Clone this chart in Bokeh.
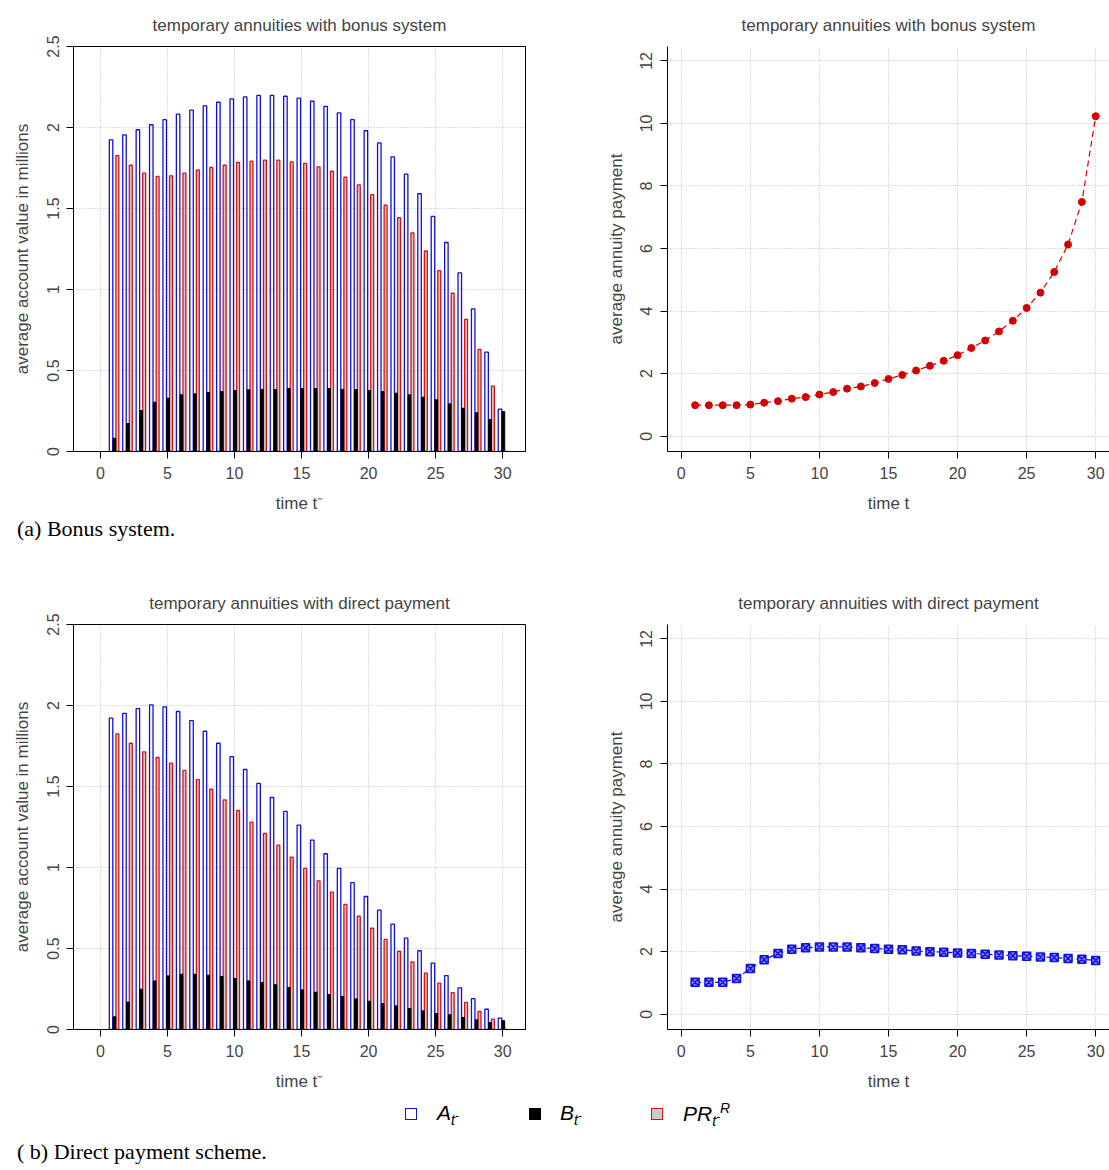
import numpy as np
from bokeh.plotting import figure
from bokeh.layouts import column, row
from bokeh.models import Div, FixedTicker, Range1d
from bokeh.embed import file_html
from bokeh.resources import INLINE

t = list(range(1, 31))
A_bonus = [1.924,1.955,1.986,2.017,2.048,2.082,2.107,2.134,2.156,2.177,2.189,2.198,2.198,2.193,2.181,
           2.162,2.131,2.090,2.048,1.980,1.905,1.819,1.712,1.591,1.451,1.290,1.103,0.881,0.613,0.261]
PR_bonus = [1.827,1.767,1.718,1.698,1.702,1.718,1.739,1.753,1.767,1.784,1.792,1.798,1.798,1.788,1.778,
            1.757,1.730,1.693,1.646,1.586,1.520,1.443,1.350,1.239,1.117,0.977,0.815,0.630,0.403,0.0]
B_bonus = [0.082,0.173,0.253,0.304,0.329,0.350,0.356,0.364,0.370,0.377,0.381,0.383,0.383,0.389,0.389,
           0.389,0.389,0.383,0.383,0.377,0.370,0.360,0.350,0.335,0.319,0.294,0.267,0.239,0.198,0.247]
A_direct = [1.922,1.952,1.981,2.004,1.992,1.963,1.907,1.841,1.767,1.685,1.605,1.519,1.432,1.346,1.261,
            1.169,1.085,0.994,0.907,0.821,0.737,0.650,0.564,0.486,0.410,0.333,0.257,0.191,0.125,0.070]
PR_direct = [1.825,1.767,1.714,1.679,1.644,1.599,1.543,1.483,1.418,1.352,1.280,1.210,1.138,1.064,0.994,
             0.918,0.848,0.772,0.699,0.625,0.556,0.483,0.418,0.348,0.286,0.228,0.167,0.111,0.064,0.0]
B_direct = [0.078,0.169,0.249,0.300,0.331,0.341,0.341,0.335,0.327,0.315,0.300,0.290,0.276,0.259,0.245,
            0.230,0.216,0.204,0.189,0.175,0.160,0.146,0.130,0.115,0.099,0.091,0.074,0.060,0.043,0.054]
pay_bonus = [0.99,0.99,0.99,0.99,1.01,1.07,1.12,1.20,1.25,1.33,1.41,1.52,1.59,1.70,1.83,
             1.96,2.10,2.25,2.41,2.59,2.82,3.06,3.35,3.69,4.10,4.59,5.25,6.13,7.49,10.23]
pay_direct = [1.02,1.02,1.02,1.14,1.46,1.74,1.94,2.08,2.12,2.15,2.15,2.15,2.12,2.10,2.08,
              2.06,2.02,2.00,1.98,1.96,1.94,1.92,1.89,1.87,1.85,1.83,1.81,1.78,1.76,1.72]
xticks = [0, 5, 10, 15, 20, 25, 30]
yticks_left = [0, 0.5, 1, 1.5, 2, 2.5]
yticks_right = [0, 2, 4, 6, 8, 10, 12]

FONT = "Liberation Sans"


def style(p, yticks, outline):
    p.title.text_font = FONT
    p.title.text_font_size = "17px"
    p.title.text_font_style = "normal"
    p.title.align = "center"
    p.title.standoff = 20
    p.title.vertical_align = "top"
    for ax in (p.xaxis[0], p.yaxis[0]):
        ax.major_label_text_font = FONT
        ax.major_label_text_font_size = "16px"
        ax.axis_label_text_font = FONT
        ax.axis_label_text_font_size = "17px"
        ax.axis_label_text_font_style = "normal"
        ax.minor_tick_line_color = None
        ax.major_tick_in = 0
        ax.major_tick_out = 7
        ax.major_label_standoff = 8
        ax.axis_label_standoff = 12
        ax.axis_line_color = "black"
        ax.major_tick_line_color = "black"
    p.xaxis.ticker = FixedTicker(ticks=xticks)
    p.yaxis.ticker = FixedTicker(ticks=yticks)
    p.yaxis.major_label_overrides = {v: ("%g" % v) for v in yticks}
    p.yaxis.major_label_orientation = "vertical"
    p.grid.grid_line_color = "#bbbbbb"
    p.grid.grid_line_dash = "1 2"
    p.outline_line_color = "black" if outline else None
    p.background_fill_color = "white"
    p.border_fill_color = "white"


def bar_fig(title, A, B, PR):
    p = figure(width=560, height=46 + 405 + 64, output_backend="svg", toolbar_location=None,
               x_range=Range1d(-2, 31.7), y_range=Range1d(0, 2.5), title=title,
               min_border_left=73, min_border_right=35, min_border_top=46, min_border_bottom=64)
    tt = np.array(t, dtype=float)
    p.vbar(x=tt - 0.2, top=A, width=0.26, bottom=0, fill_color=None, line_color="#1010dd", line_width=1.3)
    p.vbar(x=tt + 0.27, top=PR, width=0.22, bottom=0, fill_color="#cccccc", line_color="#dd1010", line_width=1.3)
    p.vbar(x=tt + 0.05, top=B, width=0.2, bottom=0, fill_color="black", line_color="black", line_width=1)
    p.xaxis.axis_label = "time t\u207b"
    p.yaxis.axis_label = "average account value in millions"
    style(p, yticks_left, True)
    return p


def pay_fig(title, y, color, marker):
    p = figure(width=549, height=46 + 405 + 64, output_backend="svg", toolbar_location=None,
               x_range=Range1d(-1.0, 31.0), y_range=Range1d(-0.49, 12.46), title=title,
               min_border_left=107, min_border_right=0, min_border_top=46, min_border_bottom=64)
    p.line(t, y, line_color=color, line_dash="6 4", line_width=1.2)
    if marker == "circle":
        p.scatter(t, y, marker="circle", size=7, fill_color=color, line_color=color)
    else:
        p.scatter(t, y, marker="square_x", size=8, fill_color="#8888ff", line_color=color, line_width=1.5)
    p.xaxis.axis_label = "time t"
    p.yaxis.axis_label = "average annuity payment"
    style(p, yticks_right, False)
    return p


p1 = bar_fig("temporary annuities with bonus system", A_bonus, B_bonus, PR_bonus)
p2 = pay_fig("temporary annuities with bonus system", pay_bonus, "#d40000", "circle")
p3 = bar_fig("temporary annuities with direct payment", A_direct, B_direct, PR_direct)
p4 = pay_fig("temporary annuities with direct payment", pay_direct, "#1010dd", "square")

cap_style = {"font-family": "Liberation Serif", "font-size": "22px", "color": "black",
             "line-height": "0.8"}
cap_a = Div(text="(a) Bonus system.", width=1093, height=53,
            styles=dict(cap_style, **{"padding-left": "12px"}))
cap_b = Div(text="( b) Direct payment scheme.", width=1093, height=26,
            styles=dict(cap_style, **{"padding-left": "12px"}))


def box(b, f, left):
    return ('<span style="position:absolute;left:%dpx;top:10px;width:12px;height:12px;'
            'border:1.5px solid %s;background:%s"></span>' % (left, b, f))


def lab(html, left):
    return ('<span style="position:absolute;left:%dpx;top:0px;font-style:italic">%s</span>' % (left, html))


legend_html = (
    '<div style="position:relative;width:1093px;height:34px;font-family:Liberation Sans;font-size:21px">'
    + box("#1010dd", "white", 400) + lab("A<sub style='font-size:14px'>t<sup>-</sup></sub>", 432)
    + box("black", "black", 524) + lab("B<sub style='font-size:14px'>t<sup>-</sup></sub>", 555)
    + box("#dd1010", "#cccccc", 646) + lab("PR<sub style='font-size:14px'>t<sup>-</sup></sub><sup style='font-size:14px'>R</sup>", 678)
    + '</div>')
legend = Div(text=legend_html, width=1093, height=35)

layout = column(row(p1, p2), cap_a, row(p3, p4), legend, cap_b)

open("out.html", "w").write(file_html(layout, INLINE))
